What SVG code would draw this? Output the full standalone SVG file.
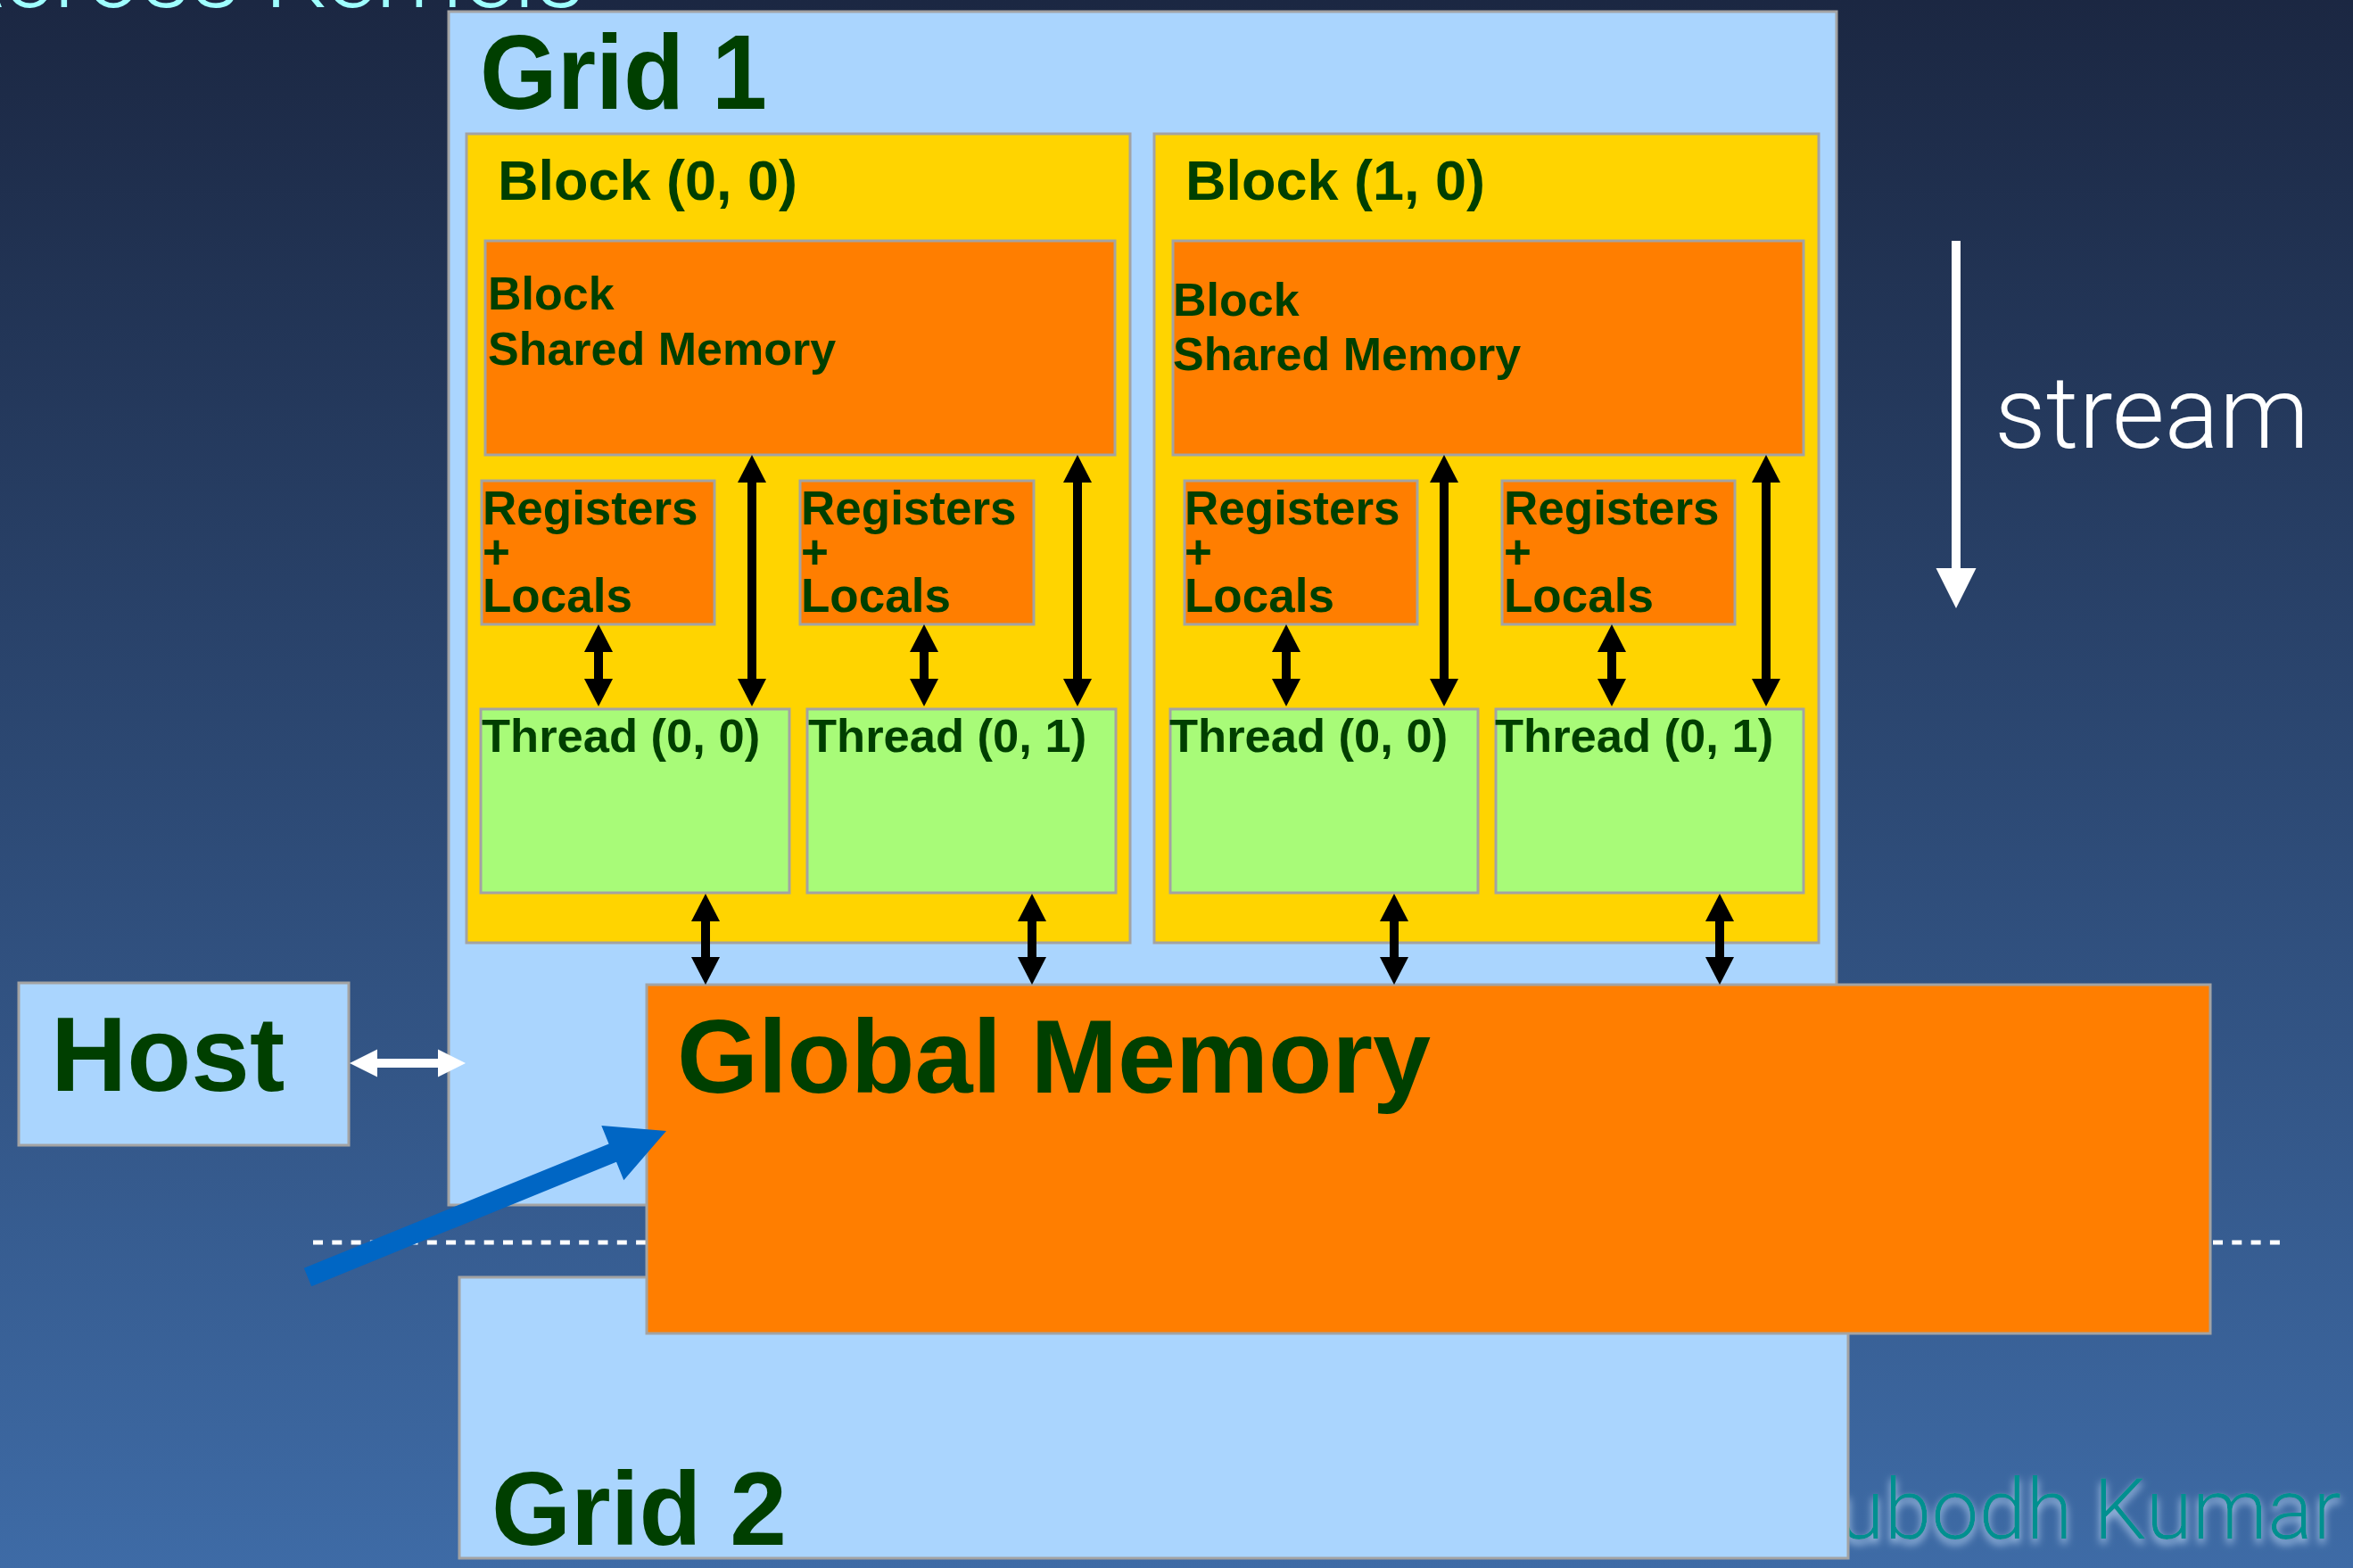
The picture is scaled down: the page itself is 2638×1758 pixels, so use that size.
<svg xmlns="http://www.w3.org/2000/svg" width="2638" height="1758" viewBox="0 0 2638 1758">
<defs>
<linearGradient id="bg" x1="0" y1="0" x2="0" y2="1">
<stop offset="0" stop-color="#1B2742"/>
<stop offset="1" stop-color="#3E6BA6"/>
</linearGradient>
<filter id="glow" x="-10%" y="-30%" width="120%" height="170%">
<feOffset in="SourceAlpha" dy="5" result="o"/>
<feGaussianBlur in="o" stdDeviation="5" result="b"/>
<feFlood flood-color="#C4DEFA" flood-opacity="0.9"/>
<feComposite in2="b" operator="in" result="g"/>
<feMerge><feMergeNode in="g"/><feMergeNode in="SourceGraphic"/></feMerge>
</filter>
<marker id="ah" markerUnits="userSpaceOnUse" markerWidth="31" markerHeight="32" refX="0" refY="16" orient="auto-start-reverse" overflow="visible">
<path d="M0,0 L31,16 L0,32 z" fill="#000"/>
</marker>
<marker id="wh" markerUnits="userSpaceOnUse" markerWidth="31" markerHeight="31" refX="0" refY="15.5" orient="auto-start-reverse" overflow="visible">
<path d="M0,0 L31,15.5 L0,31 z" fill="#fff"/>
</marker>
<marker id="sh" markerUnits="userSpaceOnUse" markerWidth="45" markerHeight="45" refX="0" refY="22.5" orient="auto" overflow="visible">
<path d="M0,0 L45,22.5 L0,45 z" fill="#fff"/>
</marker>
</defs>
<style>
.box{stroke:#A3A3A3;stroke-width:3}
.grid{fill:#AAD5FE}
.blk{fill:#FFD400}
.org{fill:#FF7E00}
.thr{fill:#A8FB78}
.lbl{font-family:"Liberation Sans",Arial,sans-serif;font-weight:bold;fill:#003F00}
.lt{font-family:Roboto,"Liberation Sans",sans-serif;font-weight:300}
.bk{stroke:#000;stroke-width:10;fill:none;marker-start:url(#ah);marker-end:url(#ah)}
</style>
<rect width="2638" height="1758" fill="url(#bg)"/>
<text class="lt" x="656" y="8" font-size="110" fill="#9FFFFF" text-anchor="end">Across Kernels</text>
<text class="lt" x="2625" y="1725" font-size="95" fill="#009090" text-anchor="end" filter="url(#glow)">Subodh Kumar</text>
<line x1="351" y1="1393" x2="2559" y2="1393" stroke="#fff" stroke-width="5" stroke-dasharray="11 10.3"/>

<g id="grid1">
<rect class="box grid" x="503" y="13" width="1556" height="1338"/>
<text class="lbl" x="538" y="122" font-size="118" textLength="322" lengthAdjust="spacingAndGlyphs">Grid 1</text>
</g>
<g id="block00">
<rect class="box blk" x="523" y="150" width="744" height="907"/>
<text class="lbl" x="558" y="224" font-size="63">Block (0, 0)</text>
</g>
<g id="block10">
<rect class="box blk" x="1294" y="150" width="745" height="907"/>
<text class="lbl" x="1329" y="224" font-size="63">Block (1, 0)</text>
</g>
<g id="shared0">
<rect class="box org" x="544" y="270" width="706" height="240"/>
<text class="lbl" font-size="52"><tspan x="547" y="347">Block</tspan><tspan x="547" y="409">Shared Memory</tspan></text>
</g>
<g id="shared1">
<rect class="box org" x="1315" y="270" width="707" height="240"/>
<text class="lbl" font-size="52"><tspan x="1315" y="354">Block</tspan><tspan x="1315" y="415">Shared Memory</tspan></text>
</g>
<g id="reg00">
<rect class="box org" x="540" y="539" width="261" height="161"/>
<text class="lbl" font-size="53"><tspan x="541" y="588">Registers</tspan><tspan x="541" y="637">+</tspan><tspan x="541" y="686">Locals</tspan></text>
</g>
<g id="reg01">
<rect class="box org" x="897" y="539" width="262" height="161"/>
<text class="lbl" font-size="53"><tspan x="898" y="588">Registers</tspan><tspan x="898" y="637">+</tspan><tspan x="898" y="686">Locals</tspan></text>
</g>
<g id="reg10">
<rect class="box org" x="1328" y="539" width="261" height="161"/>
<text class="lbl" font-size="53"><tspan x="1328" y="588">Registers</tspan><tspan x="1328" y="637">+</tspan><tspan x="1328" y="686">Locals</tspan></text>
</g>
<g id="reg11">
<rect class="box org" x="1684" y="539" width="261" height="161"/>
<text class="lbl" font-size="53"><tspan x="1686" y="588">Registers</tspan><tspan x="1686" y="637">+</tspan><tspan x="1686" y="686">Locals</tspan></text>
</g>
<g id="thread000">
<rect class="box thr" x="539" y="795" width="346" height="206"/>
<text class="lbl" x="540" y="843" font-size="52.5">Thread (0, 0)</text>
</g>
<g id="thread001">
<rect class="box thr" x="905" y="795" width="346" height="206"/>
<text class="lbl" x="906" y="843" font-size="52.5">Thread (0, 1)</text>
</g>
<g id="thread100">
<rect class="box thr" x="1312" y="795" width="345" height="206"/>
<text class="lbl" x="1311" y="843" font-size="52.5">Thread (0, 0)</text>
</g>
<g id="thread101">
<rect class="box thr" x="1677" y="795" width="345" height="206"/>
<text class="lbl" x="1676" y="843" font-size="52.5">Thread (0, 1)</text>
</g>
<g id="host">
<rect class="box grid" x="21" y="1102" width="370" height="182"/>
<text class="lbl" x="57" y="1223" font-size="118">Host</text>
</g>
<g id="grid2">
<rect class="box grid" x="515" y="1432" width="1557" height="315"/>
<text class="lbl" x="551" y="1732" font-size="117" textLength="331" lengthAdjust="spacingAndGlyphs">Grid 2</text>
</g>
<g id="global">
<rect class="box org" x="725" y="1104" width="1753" height="391"/>
<text class="lbl" x="759" y="1225" font-size="117">Global Memory</text>
</g>
<g id="stream">
<line x1="2193" y1="270" x2="2193" y2="637" stroke="#fff" stroke-width="10" marker-end="url(#sh)"/>
<text class="lt" x="2236" y="502" font-size="114" fill="#fff">stream</text>
</g>

<g id="connectors">
<line class="bk" x1="671" y1="731" x2="671" y2="761"/>
<line class="bk" x1="1036" y1="731" x2="1036" y2="761"/>
<line class="bk" x1="1442" y1="731" x2="1442" y2="761"/>
<line class="bk" x1="1807" y1="731" x2="1807" y2="761"/>
<line class="bk" x1="843" y1="541" x2="843" y2="761"/>
<line class="bk" x1="1208" y1="541" x2="1208" y2="761"/>
<line class="bk" x1="1619" y1="541" x2="1619" y2="761"/>
<line class="bk" x1="1980" y1="541" x2="1980" y2="761"/>
<line class="bk" x1="791" y1="1033" x2="791" y2="1073"/>
<line class="bk" x1="1157" y1="1033" x2="1157" y2="1073"/>
<line class="bk" x1="1563" y1="1033" x2="1563" y2="1073"/>
<line class="bk" x1="1928" y1="1033" x2="1928" y2="1073"/>
<line x1="423" y1="1192" x2="491" y2="1192" stroke="#fff" stroke-width="10" marker-start="url(#wh)" marker-end="url(#wh)"/>
<polygon points="340.8,1421.8 682.6,1282.4 674.3,1262 747,1268 699.3,1323.2 691,1302.8 349.2,1442.2" fill="#0066C4"/>
</g>
</svg>
